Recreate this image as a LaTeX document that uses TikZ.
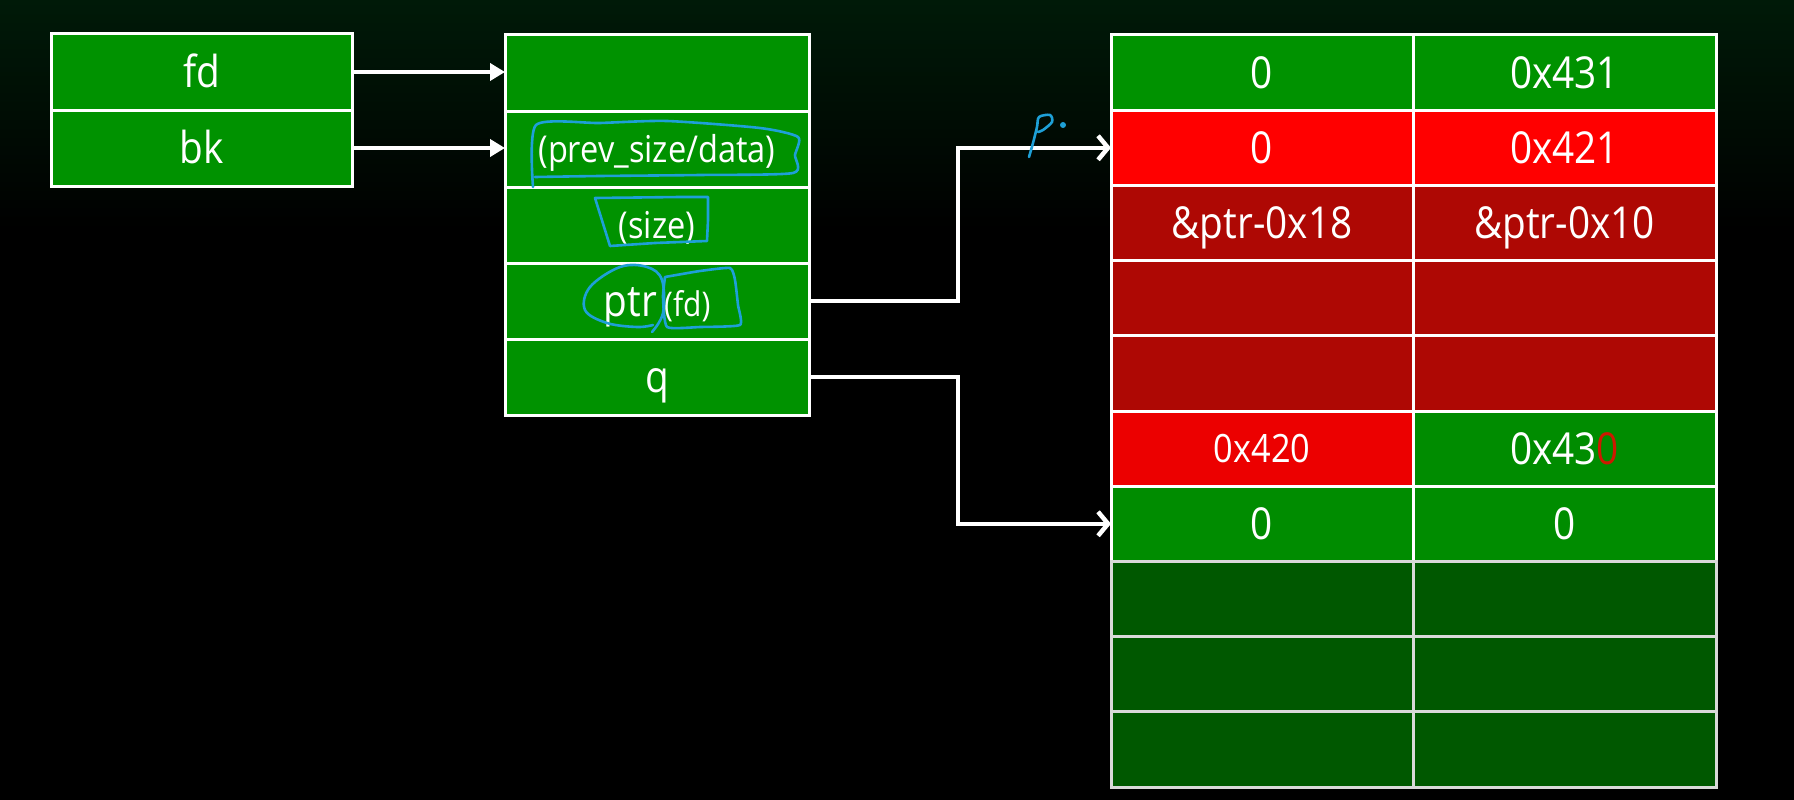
\documentclass[tikz,border=0pt]{standalone}
\usepackage{fontspec}
\setmainfont{Open Sans}[FakeStretch=0.88]
\usetikzlibrary{arrows.meta,positioning}

\definecolor{boxgreen}{RGB}{0,146,0}
\definecolor{rowgreen}{RGB}{0,140,0}
\definecolor{deepgreen}{RGB}{0,88,0}
\definecolor{hotred}{RGB}{255,0,0}
\definecolor{midred}{RGB}{236,0,0}
\definecolor{deepred}{RGB}{174,8,4}
\definecolor{penblue}{RGB}{30,160,215}
\definecolor{zerored}{RGB}{205,25,0}
\definecolor{bgtop}{RGB}{0,26,8}

\tikzset{every picture/.style={line width=0.75pt}}
\tikzset{
  cell/.style={draw=white, line width=3pt, text=white, inner sep=0pt, outer sep=0pt,
    font=\fontsize{44}{52}\selectfont, text height=31pt, text depth=0pt},
  slot/.style={cell, minimum width=301pt, minimum height=76pt},
  chunk/.style={cell, minimum width=304pt, minimum height=76pt},
  heapl/.style={cell, minimum width=302pt, minimum height=75.2pt},
  heapr/.style={cell, minimum width=303pt, minimum height=75.2pt},
  smalltext/.style={font=\fontsize{37}{44}\selectfont, text height=26pt},
  toChunk/.style={draw=white, line width=4.5pt, -{Triangle[length=15pt,width=17pt]}},
  toHeap/.style={draw=white, line width=4.5pt, line join=miter, -{Straight Barb[length=10pt,width=24pt]}},
  pen/.style={draw=penblue, line width=2.6pt, line cap=round, line join=round}
}

\begin{document}
\begin{tikzpicture}[x=1pt,y=1pt,yscale=-1,xscale=1]
%background
\fill[black] (0,0) rectangle (1794,800);
\shade[top color=bgtop, bottom color=black, draw=none] (0,0) rectangle (1794,230);
\useasboundingbox (0,0) rectangle (1794,800);

%Shape: fd / bk slots
\node[slot, fill=boxgreen, anchor=north west] (fd) at (51,34) {fd};
\node[slot, fill=boxgreen, below=0pt of fd] (bk) {bk};

%Shape: chunk column
\node[chunk, fill=boxgreen, anchor=north west] (pre0) at (505,35) {};
\node[chunk, fill=boxgreen, below=0pt of pre0, smalltext] (prevsize) {(prev\_size/data)};
\node[chunk, fill=boxgreen, below=0pt of prevsize, smalltext] (size) {(size)};
\node[chunk, fill=boxgreen, below=0pt of size] (ptr) {ptr\,{\fontsize{34}{40}\selectfont(fd)}};
\node[chunk, fill=boxgreen, below=0pt of ptr] (q) {q};

%Shape: heap table
\node[heapl, fill=boxgreen, anchor=north west] (heap1a) at (1111,35) {0};
\node[heapr, fill=boxgreen, right=0pt of heap1a] (heap1b) {0x431};
\node[heapl, fill=hotred, below=0pt of heap1a] (heap2a) {0};
\node[heapr, fill=hotred, right=0pt of heap2a] (heap2b) {0x421};
\node[heapl, fill=deepred, below=0pt of heap2a] (heap3a) {\&ptr-0x18};
\node[heapr, fill=deepred, right=0pt of heap3a] (heap3b) {\&ptr-0x10};
\node[heapl, fill=deepred, below=0pt of heap3a] (heap4a) {};
\node[heapr, fill=deepred, right=0pt of heap4a] (heap4b) {};
\node[heapl, fill=deepred, below=0pt of heap4a] (heap5a) {};
\node[heapr, fill=deepred, right=0pt of heap5a] (heap5b) {};
\node[heapl, fill=midred, below=0pt of heap5a, font=\fontsize{39}{46}\selectfont, text height=28pt] (heap6a) {0x420};
\node[heapr, fill=rowgreen, right=0pt of heap6a] (heap6b) {0x43\textcolor{zerored}{0}};
\node[heapl, fill=rowgreen, below=0pt of heap6a] (heap7a) {0};
\node[heapr, fill=rowgreen, right=0pt of heap7a] (heap7b) {0};
\node[heapl, fill=deepgreen, draw=white!85!black, below=0pt of heap7a] (heap8a) {};
\node[heapr, fill=deepgreen, draw=white!85!black, right=0pt of heap8a] (heap8b) {};
\node[heapl, fill=deepgreen, draw=white!85!black, below=0pt of heap8a] (heap9a) {};
\node[heapr, fill=deepgreen, draw=white!85!black, right=0pt of heap9a] (heap9b) {};
\node[heapl, fill=deepgreen, draw=white!85!black, below=0pt of heap9a] (heap10a) {};
\node[heapr, fill=deepgreen, draw=white!85!black, right=0pt of heap10a] (heap10b) {};

%Connectors
\coordinate (bend) at (958,0);
\draw[toChunk] (fd.east) -- (fd.east -| pre0.west);
\draw[toChunk] (bk.east) -- (bk.east -| prevsize.west);
\draw[toHeap] (ptr.east) -- (ptr.east -| bend) |- (heap2a.west);
\draw[toHeap] (q.east) -- (q.east -| bend) |- (heap7a.west);

%Pen marks
\draw[pen] plot[smooth, tension=0.4] coordinates {(533,187) (536,125) (600,123) (667,121) (760,128) (798,137) (795,155) (793,173) (700,175) (600,176) (535,177)};
\draw[pen] (595,198) -- (680,197) -- (708,197) -- (708,220) -- (707,241) -- (655,243) -- (610,246) -- cycle;
\draw[pen] plot[smooth, tension=0.6] coordinates {(652,332) (663,313) (662,280) (647,267) (620,267) (590,287) (585,310) (607,323) (637,327) (653,325)};
\draw[pen] plot[smooth, tension=0.3] coordinates {(665,277) (700,271) (730,268) (735,280) (738,305) (740,325) (700,327) (667,327) (663,297) (665,277)};
\draw[pen] plot[smooth, tension=0.5] coordinates {(1029,157) (1033,143) (1037,127) (1039,117) (1050,115) (1052,122) (1043,130) (1038,132)};
\fill[penblue] (1063,125) circle (3);
\end{tikzpicture}
\end{document}
